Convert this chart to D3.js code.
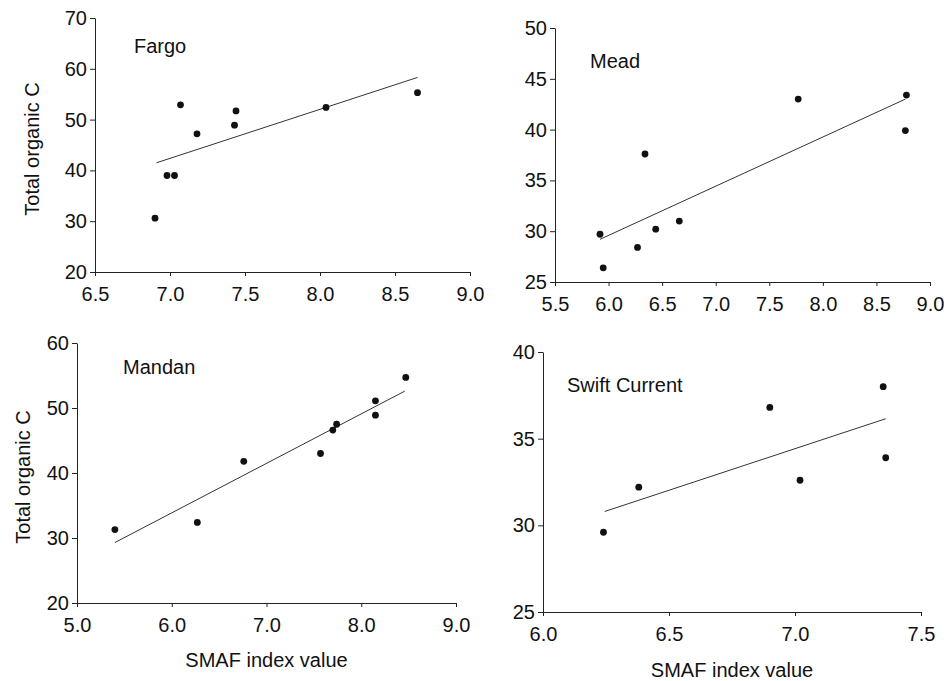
<!DOCTYPE html>
<html>
<head>
	<meta charset="utf-8">
	<script src="https://d3js.org/d3.v7.min.js"></script>
	<title>TOC vs SMAF</title>
	<style>
		body { margin: 0; background: #fff; }
		text { font-family: "Liberation Sans", Arial, sans-serif; fill: #111; }
	</style>
</head>
<body>
	<div id="chart"></div>

	<script type="text/javascript">

		// site names
		var sites = ["Fargo", "Mead", "Mandan", "Swift Current"];

		// SMAF index values (x) per site
		var fargoX = [6.90, 6.98, 7.03, 7.07, 7.18, 7.44, 7.43, 8.04, 8.65];
		var meadX = [5.92, 5.95, 6.34, 6.27, 6.44, 6.66, 7.77, 8.78, 8.77];
		var mandanX = [5.40, 6.27, 6.76, 7.57, 7.70, 7.74, 8.15, 8.15, 8.47];
		var swiftX = [6.24, 6.38, 6.90, 7.02, 7.35, 7.36];

		// total organic C (y) per site
		var fargoY = [30.6, 39.0, 39.0, 52.9, 47.2, 51.7, 48.9, 52.4, 55.3];
		var meadY = [29.7, 26.4, 37.6, 28.4, 30.2, 31.0, 43.0, 43.4, 39.9];
		var mandanY = [31.3, 32.4, 41.8, 43.0, 46.6, 47.5, 51.1, 48.9, 54.7];
		var swiftY = [29.6, 32.2, 36.8, 32.6, 38.0, 33.9];

		// regression line ends [x0, y0, x1, y1]
		var fargoFit = [6.91, 41.5, 8.65, 58.3];
		var meadFit = [5.92, 29.2, 8.77, 43.0];
		var mandanFit = [5.40, 29.3, 8.46, 52.6];
		var swiftFit = [6.245, 30.8, 7.36, 36.15];

		// axis ranges and tick values
		var xDomains = [[6.5, 9.0], [5.5, 9.0], [5.0, 9.0], [6.0, 7.5]];
		var yDomains = [[20, 70], [25, 50], [20, 60], [25, 40]];
		var xTicks = [
			[6.5, 7.0, 7.5, 8.0, 8.5, 9.0],
			[5.5, 6.0, 6.5, 7.0, 7.5, 8.0, 8.5, 9.0],
			[5.0, 6.0, 7.0, 8.0, 9.0],
			[6.0, 6.5, 7.0, 7.5]
		];
		var yTicks = [
			[20, 30, 40, 50, 60, 70],
			[25, 30, 35, 40, 45, 50],
			[20, 30, 40, 50, 60],
			[25, 30, 35, 40]
		];

		var allX = [fargoX, meadX, mandanX, swiftX];
		var allY = [fargoY, meadY, mandanY, swiftY];
		var allFit = [fargoFit, meadFit, mandanFit, swiftFit];

		// panel placement in the page (left, top, right, bottom of plot area)
		var boxes = [
			{l: 95, t: 18, r: 470, b: 272, tx: 134, ty: 53, ytx: 32, xty: 0},
			{l: 555, t: 28, r: 930, b: 282, tx: 590, ty: 68, ytx: 0, xty: 0},
			{l: 77, t: 343, r: 456, b: 603, tx: 123, ty: 374, ytx: 23, xty: 667},
			{l: 543, t: 352, r: 921, b: 612, tx: 567, ty: 392, ytx: 0, xty: 677}
		];

		var svgwidth = 949;
		var svgheight = 681;

		var svg = d3.select("#chart").append("svg")
			.attr("width", svgwidth)
			.attr("height", svgheight);

		sites.forEach(function(site, i){
			var box = boxes[i];

			var xScale = d3.scaleLinear()
				.domain(xDomains[i])
				.range([box.l, box.r]);

			var yScale = d3.scaleLinear()
				.domain(yDomains[i])
				.range([box.b, box.t]);

			var g = svg.append("g");

			// axes
			g.append("g")
				.attr("transform", "translate(0," + box.b + ")")
				.call(d3.axisBottom(xScale)
					.tickValues(xTicks[i])
					.tickFormat(d3.format(".1f"))
					.tickSize(4)
					.tickSizeOuter(0)
					.tickPadding(11));

			g.append("g")
				.attr("transform", "translate(" + box.l + ",0)")
				.call(d3.axisLeft(yScale)
					.tickValues(yTicks[i])
					.tickSize(5)
					.tickSizeOuter(0)
					.tickPadding(3));

			g.selectAll(".domain, .tick line")
				.attr("stroke", "#222")
				.attr("stroke-width", 1);

			g.selectAll(".tick text")
				.attr("font-size", 20)
				.attr("font-family", "Liberation Sans, Arial, sans-serif")
				.attr("fill", "#111");

			// regression line
			var fit = allFit[i];
			g.append("line")
				.attr("x1", xScale(fit[0]))
				.attr("y1", yScale(fit[1]))
				.attr("x2", xScale(fit[2]))
				.attr("y2", yScale(fit[3]))
				.attr("stroke", "#333")
				.attr("stroke-width", 1);

			// points
			var pts = allX[i].map(function(x, j){
				return {x: x, y: allY[i][j]};
			});

			g.selectAll(".dot")
				.data(pts).enter().append("circle")
				.attr("class", "dot")
				.attr("cx", function(d){ return xScale(d.x); })
				.attr("cy", function(d){ return yScale(d.y); })
				.attr("r", 3.4)
				.attr("fill", "#111");

			// site label
			g.append("text")
				.attr("x", box.tx)
				.attr("y", box.ty)
				.attr("font-size", 20)
				.text(site);

			if (box.ytx) {
				g.append("text")
					.attr("transform", "translate(" + (box.ytx + 7) + "," + ((box.t + box.b) / 2 + 4) + ") rotate(-90)")
					.attr("text-anchor", "middle")
					.attr("font-size", 20)
					.text("Total organic C");
			}

			if (box.xty) {
				g.append("text")
					.attr("x", (box.l + box.r) / 2)
					.attr("y", box.xty)
					.attr("text-anchor", "middle")
					.attr("font-size", 20)
					.text("SMAF index value");
			}
		});

	</script>
</body>
</html>
